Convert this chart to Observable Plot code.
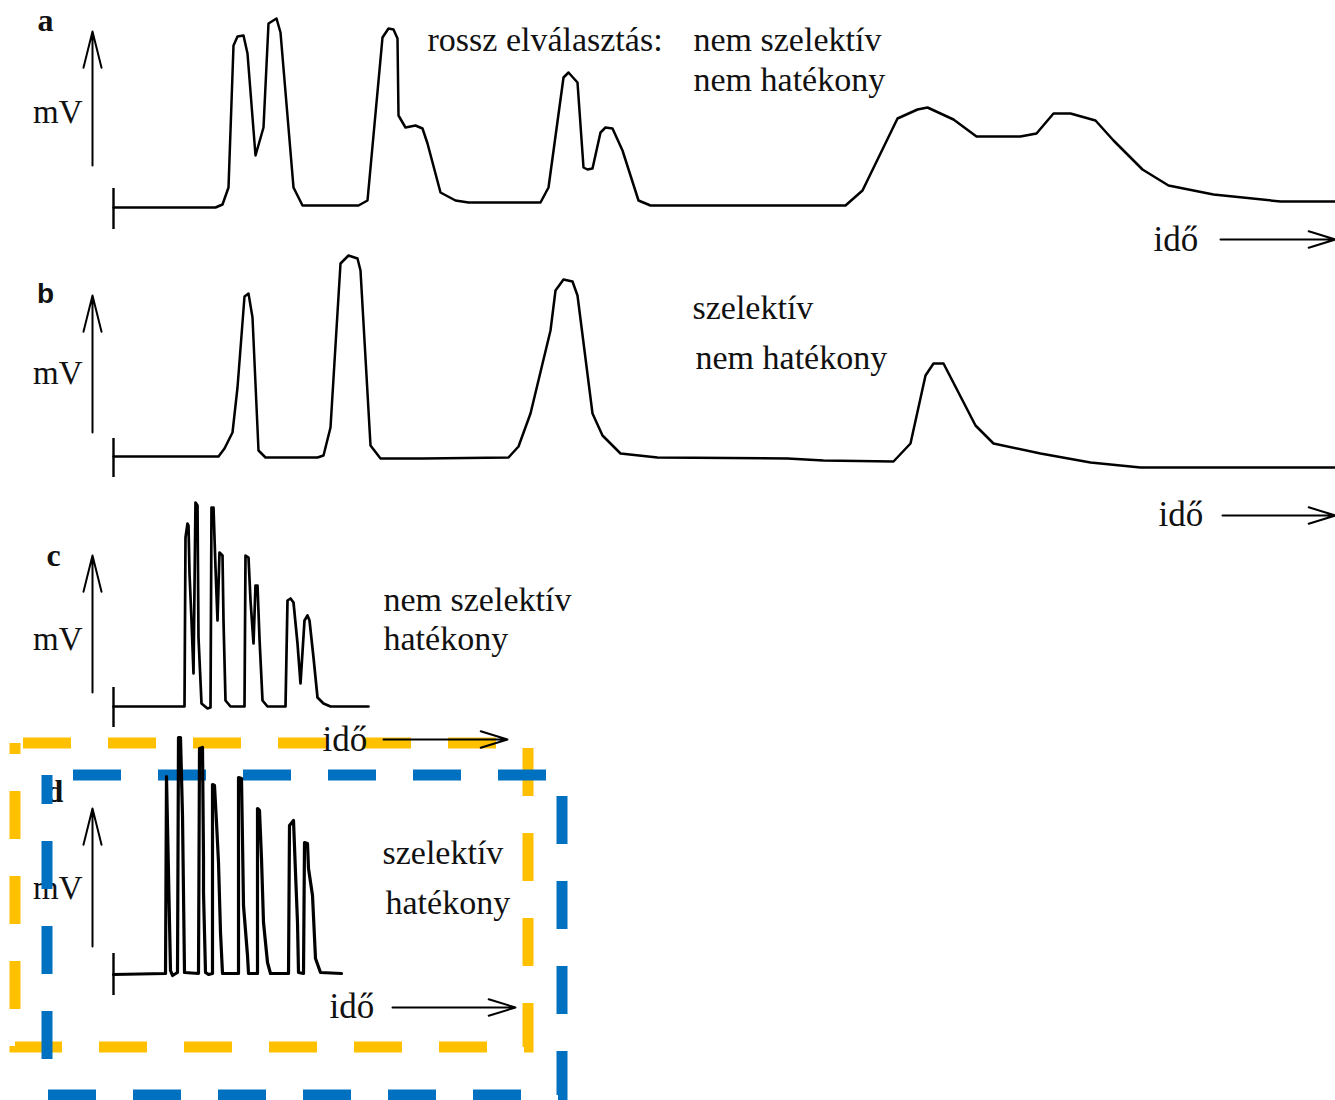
<!DOCTYPE html>
<html><head><meta charset="utf-8">
<script src="https://cdn.jsdelivr.net/npm/d3@7"></script>
<script src="https://cdn.jsdelivr.net/npm/@observablehq/plot@0.6"></script>
<style>body{margin:0;background:#fff} #chart svg{display:block}</style>
</head><body><div id="chart"></div>
<script>
// Chromatogram traces: [time, signal] in figure units
const traceA = [[113,207],[215,207],[222,204],[228,187],[233,45],[237,36],[243,35],[247,53],[255,155],[263,127],[268,23],[276,18],[280,32],[293,187],[302,205],[358,205],[367,200],[382,37],[388,28],[393,29],[397,38],[398,115],[405,127],[415,125],[422,128],[427,143],[440,192],[455,200],[468,202],[540,202],[548,187],[563,77],[568,72],[577,82],[583,167],[587,169],[592,168],[600,132],[605,127],[612,128],[622,150],[638,200],[650,205],[845,205],[862,190],[897,118],[917,109],[927,107],[953,119],[976,136],[1020,136],[1036,133],[1053,113],[1070,113],[1095,120],[1113,140],[1142,169],[1168,185],[1213,194],[1280,201],[1335,201]];
const traceB = [[113,456],[218,456],[224,448],[232,432],[237,387],[244,296],[248,293],[252,317],[258,450],[265,457],[317,457],[323,455],[330,427],[340,263],[348,255],[357,258],[360,270],[370,445],[380,458],[423,458],[508,457],[518,446],[530,413],[550,330],[555,290],[563,279],[572,281],[577,295],[592,413],[602,435],[620,453],[657,457],[787,458],[823,460],[893,461],[910,443],[925,375],[933,363],[943,363],[975,425],[993,443],[1040,453],[1090,462],[1140,467],[1335,467]];
const traceC = [[113,706],[184,706],[185,537],[187,523],[188,525],[189,573],[191,620],[193,673],[194,587],[195,502],[197,505],[198,637],[201,703],[207,708],[210,707],[211,507],[213,507],[215,567],[217,620],[219,552],[222,555],[223,620],[225,700],[230,706],[244,706],[245,555],[248,557],[250,600],[253,643],[255,585],[257,585],[259,638],[262,700],[267,706],[285,706],[287,600],[290,598],[293,602],[297,643],[300,683],[304,620],[307,615],[309,620],[313,657],[317,697],[323,703],[330,706],[368,706]];
const traceD = [[113,974],[165,973],[166,776],[168,873],[170,970],[172,975],[177,972],[178,737],[180,737],[182,815],[183,893],[184,972],[198,973],[199,748],[202,747],[203,858],[203,892],[205,972],[208,974],[212,973],[212,784],[214,785],[216,822],[218,862],[220,932],[222,973],[238,973],[238,777],[241,778],[242,840],[243,905],[247,955],[248,973],[257,973],[257,808],[259,810],[261,858],[263,922],[267,962],[270,973],[288,973],[289,825],[293,820],[295,872],[297,922],[298,972],[303,973],[304,842],[307,843],[308,868],[312,895],[315,958],[320,972],[341,973]];

// Panel letters
const panelLetters = ["a", "b", "c", "d"];
const letterX = [45, 45, 53, 54];
const letterY = [30, 302, 565, 801];

// Axis anchors
const mvAxisBottom = [165, 432, 692, 946];
const mvAxisTop = [31, 295, 555, 808];
const mvLabelY = [122, 383, 649, 898];
const startTickTop = [188, 438, 687, 953];
const startTickBottom = [229, 477, 727, 995];
const timeArrowStart = [1220, 1222, 383, 392];
const timeArrowEnd = [1335, 1335, 507, 515];
const timeArrowY = [239, 515, 739, 1007];
const timeLabelX = [1153, 1158, 322, 329];
const timeLabelY = [250, 525, 750, 1017];

// Annotations
const notes = ["rossz elválasztás:", "nem szelektív", "nem hatékony", "szelektív", "nem hatékony", "nem szelektív", "hatékony", "szelektív", "hatékony"];
const noteX = [427, 693, 693, 692, 695, 383, 383, 382, 385];
const noteY = [50, 50, 90, 318, 368, 610, 649, 863, 913];

// Highlight boxes (orange, blue)
const boxX1 = [15, 47];
const boxX2 = [528, 562];
const boxY1 = [743, 775];
const boxY2 = [1047, 1095];

const idx4 = d3.range(4);
const serif = "Liberation Serif, Times New Roman, serif";
const ink = "#111";

const traceMark = (t, w) => Plot.line(t, {x: d => d[0], y: d => d[1], stroke: "#000", strokeWidth: w, strokeLinejoin: "round", curve: "linear"});

const chart = Plot.plot({
  width: 1335,
  height: 1100,
  margin: 0,
  x: {type: "linear", domain: [0, 1335], range: [0, 1335], axis: null},
  y: {type: "linear", domain: [0, 1100], range: [0, 1100], axis: null},
  style: {background: "#fff"},
  marks: [
    // orange box
    Plot.rect([0], {x1: () => boxX1[0], x2: () => boxX2[0], y1: () => boxY1[0], y2: () => boxY2[0], fill: "none", stroke: "#FFC000", strokeWidth: 11, strokeDasharray: "48,37", strokeDashoffset: 77}),
    // traces a, b, c
    traceMark(traceA, 2.5),
    traceMark(traceB, 2.5),
    traceMark(traceC, 2.7),
    // panel letters
    Plot.text(idx4.filter(i => i !== 1), {x: i => letterX[i], y: i => letterY[i], text: i => panelLetters[i], fontFamily: serif, fontWeight: "bold", fontSize: 32, fill: ink, lineAnchor: "bottom", textAnchor: "middle"}),
    Plot.text([1], {x: i => letterX[i], y: i => letterY[i], text: i => panelLetters[i], fontFamily: "Liberation Sans, Arial, sans-serif", fontWeight: "bold", fontSize: 28, fill: ink, lineAnchor: "bottom", textAnchor: "middle"}),
    // mV labels
    Plot.text(idx4, {x: 82, y: i => mvLabelY[i], text: () => "mV", fontFamily: serif, fontSize: 33, fill: ink, lineAnchor: "bottom", textAnchor: "end"}),
    // blue box
    Plot.rect([0], {x1: () => boxX1[1], x2: () => boxX2[1], y1: () => boxY1[1], y2: () => boxY2[1], fill: "none", stroke: "#0070C0", strokeWidth: 11, strokeDasharray: "48,37", strokeDashoffset: 59}),
    // trace d
    traceMark(traceD, 3.2),
    // mV axis arrows
    Plot.arrow(idx4, {x1: 92, x2: 92, y1: i => mvAxisBottom[i], y2: i => mvAxisTop[i], stroke: "#000", strokeWidth: 2, headLength: 28, headAngle: 28}),
    // start ticks
    Plot.ruleX(idx4, {x: 113, y1: i => startTickTop[i], y2: i => startTickBottom[i], stroke: "#000", strokeWidth: 2.4}),
    // time arrows
    Plot.arrow(idx4, {x1: i => timeArrowStart[i], x2: i => timeArrowEnd[i], y1: i => timeArrowY[i], y2: i => timeArrowY[i], stroke: "#000", strokeWidth: 2, headLength: 21, headAngle: 34}),
    Plot.text(idx4, {x: i => timeLabelX[i], y: i => timeLabelY[i], text: () => "idő", fontFamily: serif, fontSize: 35, fill: ink, lineAnchor: "bottom", textAnchor: "start"}),
    // notes
    Plot.text(d3.range(notes.length), {x: i => noteX[i], y: i => noteY[i], text: i => notes[i], fontFamily: serif, fontSize: 34, fill: ink, lineAnchor: "bottom", textAnchor: "start"})
  ]
});
document.getElementById("chart").appendChild(chart);
</script>
</body></html>
